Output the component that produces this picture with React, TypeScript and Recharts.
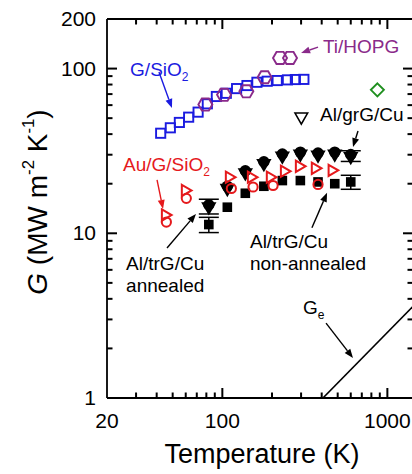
import React from "react";
import {
  ScatterChart, Scatter, XAxis, YAxis, ErrorBar, ReferenceLine, ReferenceDot,
} from "recharts";

const FONT = '"Liberation Sans", Arial, Helvetica, sans-serif';
const BLUE = "#1b1be0";
const PURPLE = "#8a2a8a";
const RED = "#e5191c";
const GREEN = "#1f8f1f";
const BLACK = "#000";

// axis ticks
const xTicks = [20, 30, 40, 50, 60, 70, 80, 90, 100, 200, 300, 400, 500, 600, 700, 800, 900, 1000];
const xLabels = [20, 100, 1000];
const xMajor = [100, 1000];
const yTicks = [1, 2, 3, 4, 5, 6, 7, 8, 9, 10, 20, 30, 40, 50, 60, 70, 80, 90, 100, 200];
const yLabels = [1, 10, 100, 200];
const yMajor = [10, 100];
const X_DOMAIN = [20, 1430];
const Y_DOMAIN = [1, 200];

// G/SiO2 (open blue squares)
const gSio2T = [42.3, 48.4, 54.9, 62.5, 71.3, 81.1, 92, 105.7, 122, 141, 162, 187, 215, 248, 277, 312];
const gSio2G = [40.5, 43.7, 47.1, 50.7, 54.4, 61.1, 67.7, 70.8, 75.6, 78.9, 82.6, 83.8, 84.6, 85.4, 85.8, 86];

// Ti/HOPG (open purple hexagons)
const tiT = [78.9, 102.4, 139.8, 180.4, 223.6, 257];
const tiG = [60.5, 69.3, 72.8, 88.6, 116, 116];

// single points
const greenT = [870];
const greenG = [74.3];
const grGT = [301];
const grGG = [50.3];

// Al/trG/Cu annealed (filled circles + filled down triangles)
const annT = [82.8, 107.2, 137.8, 178.5, 231, 297, 380, 480, 600];
const annCircG = [14.9, 19.3, 24.0, 27.2, 30.3, 31.1, 30.7, 31.1, 30.1];
const annTriG = [14.3, 18.5, 23.0, 26.2, 29.1, 29.9, 29.5, 29.9, 28.9];
const annErrT = [82.8, 600];
const annErrG = [14.6, 29.5];
const annErr = [1.5, 2.2];

// Al/trG/Cu non-annealed (filled squares)
const nonT = [82.8, 107.2, 137.8, 178.5, 231, 297, 380, 480, 600];
const nonG = [11.3, 14.4, 17.5, 19.3, 20.9, 20.9, 20.5, 20.0, 20.5];
const nonErrT = [82.8, 600];
const nonErrG = [11.3, 20.5];
const nonErr = [1.2, 2.0];

// Au/G/SiO2 (open red circles + right triangles)
const auCircT = [45.8, 60.5, 113.4, 153.5, 203, 380];
const auCircG = [11.7, 16.3, 18.7, 19.1, 19.5, 19.8];
const auTriT = [45.8, 60.5, 111.8, 152, 198, 241, 297, 371, 469];
const auTriG = [12.9, 18.2, 21.9, 21.9, 21.9, 23.8, 25.5, 24.8, 24.1];

// G_e line
const geT = [407, 1430];
const geG = [1, 3.6];

const pts = (t: number[], g: number[], e?: number[]) =>
  t.map((T, i) => (e ? { T, G: g[i], e: e[i] } : { T, G: g[i] }));

// annotation arrows and texts (data coordinates)
const arrows = [
  { c: BLUE, a: [41.3, 95.3], b: [49.5, 57.7] },
  { c: PURPLE, a: [380, 135], b: [300, 124.4] },
  { c: BLACK, a: [664, 41.8], b: [619, 33.4] },
  { c: RED, a: [40.2, 21.1], b: [43.7, 14.05] },
  { c: BLACK, a: [46.2, 8.14], b: [69.2, 13.1] },
  { c: BLACK, a: [349, 10.8], b: [431, 17.6] },
  { c: BLACK, a: [425, 2.85], b: [619, 1.75] },
];

const labels = [
  { x: 27.6, y: 90.2, color: BLUE, lines: ["G/SiO"], sub: "2" },
  { x: 407, y: 124.4, color: PURPLE, lines: ["Ti/HOPG"] },
  { x: 391, y: 48.1, color: BLACK, lines: ["Al/grG/Cu"] },
  { x: 25.0, y: 23.9, color: RED, lines: ["Au/G/SiO"], sub: "2" },
  { x: 26.1, y: 5.99, color: BLACK, lines: ["Al/trG/Cu", "annealed"] },
  { x: 147, y: 8.14, color: BLACK, lines: ["Al/trG/Cu", "non-annealed"] },
  { x: 308, y: 3.24, color: BLACK, lines: ["G"], sub: "e" },
];

// inward tick marks as points sitting on the frame edges
const xTickPts = xTicks.filter((v) => v !== 20).map((v) => ({ T: v, major: xMajor.includes(v) }));
const yTickPts = yTicks.filter((v) => v !== 1 && v !== 200).map((v) => ({ G: v, major: yMajor.includes(v) }));
const bottomTicks = xTickPts.map((p) => ({ ...p, G: Y_DOMAIN[0] }));
const topTicks = xTickPts.map((p) => ({ ...p, G: Y_DOMAIN[1] }));
const leftTicks = yTickPts.map((p) => ({ ...p, T: X_DOMAIN[0] }));
const rightTicks = yTickPts.map((p) => ({ ...p, T: X_DOMAIN[1] }));

const isMajor = (p: any) => !!(p.payload ? p.payload.major : p.major);
const tickMark = (dx: number, dy: number) => (p: any) => {
  const len = isMajor(p) ? 10 : 5.5;
  return <line x1={p.cx} y1={p.cy} x2={p.cx + dx * len} y2={p.cy + dy * len} stroke={BLACK} strokeWidth={2} />;
};
const UpTick = tickMark(0, -1);
const DownTick = tickMark(0, 1);
const RightwardTick = tickMark(1, 0);
const LeftwardTick = tickMark(-1, 0);

const AX = { stroke: BLACK, strokeWidth: 1.8 };

const BottomTick = (props: any) => {
  const { x, y, payload } = props;
  const v = payload.value;
  return xLabels.includes(v) ? (
    <text x={x} y={y + 30} textAnchor="middle" fontSize={21} fontFamily={FONT} fill={BLACK}>{v}</text>
  ) : <g />;
};

const LeftTick = (props: any) => {
  const { x, y, payload } = props;
  const v = payload.value;
  return yLabels.includes(v) ? (
    <text x={x - 11} y={y + 7} textAnchor="end" fontSize={21} fontFamily={FONT} fill={BLACK}>{v}</text>
  ) : <g />;
};

const Nothing = () => <g />;

const OpenSquare = ({ cx, cy }: any) => (
  <rect x={cx - 4.6} y={cy - 4.6} width={9.2} height={9.2} fill="none" stroke={BLUE} strokeWidth={1.9} />
);
const Hexagon = ({ cx, cy }: any) => {
  const r = 7;
  const p = [0, 60, 120, 180, 240, 300]
    .map((d) => `${cx + r * Math.cos((d * Math.PI) / 180)},${cy + r * Math.sin((d * Math.PI) / 180)}`)
    .join(" ");
  return <polygon points={p} fill="none" stroke={PURPLE} strokeWidth={1.9} />;
};
const Diamond = ({ cx, cy }: any) => (
  <polygon points={`${cx},${cy - 6.5} ${cx + 6.5},${cy} ${cx},${cy + 6.5} ${cx - 6.5},${cy}`} fill="none" stroke={GREEN} strokeWidth={1.9} />
);
const TriDown = ({ cx, cy, fill }: any) => (
  <polygon points={`${cx - 6.3},${cy - 4.7} ${cx + 6.3},${cy - 4.7} ${cx},${cy + 6.3}`} fill={fill} stroke={BLACK} strokeWidth={1.6} />
);
const OpenTriDown = (p: any) => <TriDown {...p} fill="none" />;
const FilledTriDown = (p: any) => <TriDown {...p} fill={BLACK} />;
const FilledCircle = ({ cx, cy }: any) => <circle cx={cx} cy={cy} r={5.7} fill={BLACK} />;
const FilledSquare = ({ cx, cy }: any) => <rect x={cx - 4.8} y={cy - 4.8} width={9.6} height={9.6} fill={BLACK} />;
const RedCircle = ({ cx, cy }: any) => <circle cx={cx} cy={cy} r={4.6} fill="none" stroke={RED} strokeWidth={2} />;
const RedTriRight = ({ cx, cy }: any) => (
  <polygon points={`${cx - 4.5},${cy - 5.6} ${cx + 5.2},${cy} ${cx - 4.5},${cy + 5.6}`} fill="none" stroke={RED} strokeWidth={2} />
);

const arrowShape = (color: string) => (p: any) => {
  const { x1, y1, x2, y2 } = p;
  const a = Math.atan2(y2 - y1, x2 - x1);
  const L = 9;
  const W = 3.5;
  const bx = x2 - L * Math.cos(a);
  const by = y2 - L * Math.sin(a);
  const head = `${x2},${y2} ${bx - W * Math.sin(a)},${by + W * Math.cos(a)} ${bx + W * Math.sin(a)},${by - W * Math.cos(a)}`;
  return (
    <g>
      <line x1={x1} y1={y1} x2={bx} y2={by} stroke={color} strokeWidth={1.4} />
      <polygon points={head} fill={color} />
    </g>
  );
};

const Label = ({ cx, cy, color, lines, sub }: any) => (
  <text x={cx} y={cy} fill={color} fontSize={19} fontFamily={FONT}>
    {lines.map((l: string, i: number) => (
      <tspan key={i} x={cx} dy={i === 0 ? 0 : 22}>{l}</tspan>
    ))}
    {sub && <tspan fontSize={12} dy={5}>{sub}</tspan>}
  </text>
);

export default function App() {
  return (
    <div style={{ position: "absolute", left: 0, top: 0, width: 412, height: 474, overflow: "hidden", background: "#fff", fontFamily: FONT }}>
      <ScatterChart width={440} height={474} margin={{ top: 18, right: 26, bottom: 45, left: 46 }}>
        <XAxis
          dataKey="T" type="number" scale="log" domain={X_DOMAIN} allowDataOverflow
          ticks={xTicks} interval={0} tick={BottomTick} tickLine={false} tickSize={0} tickMargin={0}
          height={31} axisLine={AX}
        />
        <XAxis
          xAxisId="top" orientation="top" dataKey="T" type="number" scale="log" domain={X_DOMAIN} allowDataOverflow
          ticks={xTicks} interval={0} tick={Nothing} tickLine={false} tickSize={0} tickMargin={0}
          height={1} axisLine={AX}
        />
        <YAxis
          dataKey="G" type="number" scale="log" domain={Y_DOMAIN} allowDataOverflow
          ticks={yTicks} interval={0} tick={LeftTick} tickLine={false} tickSize={0} tickMargin={0}
          width={61} axisLine={AX}
        />
        <YAxis
          yAxisId="right" orientation="right" dataKey="G" type="number" scale="log" domain={Y_DOMAIN} allowDataOverflow
          ticks={yTicks} interval={0} tick={Nothing} tickLine={false} tickSize={0} tickMargin={0}
          width={1} axisLine={AX}
        />

        <Scatter data={bottomTicks} shape={UpTick} isAnimationActive={false} />
        <Scatter data={topTicks} shape={DownTick} isAnimationActive={false} />
        <Scatter data={leftTicks} shape={RightwardTick} isAnimationActive={false} />
        <Scatter data={rightTicks} shape={LeftwardTick} isAnimationActive={false} />

        <Scatter data={pts(geT, geG)} line={{ stroke: BLACK, strokeWidth: 1.6 }} shape={Nothing} isAnimationActive={false} />

        <Scatter data={pts(gSio2T, gSio2G)} shape={OpenSquare} isAnimationActive={false} />
        <Scatter data={pts(tiT, tiG)} shape={Hexagon} isAnimationActive={false} />
        <Scatter data={pts(greenT, greenG)} shape={Diamond} isAnimationActive={false} />
        <Scatter data={pts(grGT, grGG)} shape={OpenTriDown} isAnimationActive={false} />

        <Scatter data={pts(nonErrT, nonErrG, nonErr)} shape={Nothing} isAnimationActive={false}>
          <ErrorBar dataKey="e" direction="y" width={10} stroke={BLACK} strokeWidth={1.5} />
        </Scatter>
        <Scatter data={pts(annErrT, annErrG, annErr)} shape={Nothing} isAnimationActive={false}>
          <ErrorBar dataKey="e" direction="y" width={10} stroke={BLACK} strokeWidth={1.5} />
        </Scatter>
        <Scatter data={pts(nonT, nonG)} shape={FilledSquare} isAnimationActive={false} />
        <Scatter data={pts(annT, annCircG)} shape={FilledCircle} isAnimationActive={false} />
        <Scatter data={pts(annT, annTriG)} shape={FilledTriDown} isAnimationActive={false} />

        <Scatter data={pts(auCircT, auCircG)} shape={RedCircle} isAnimationActive={false} />
        <Scatter data={pts(auTriT, auTriG)} shape={RedTriRight} isAnimationActive={false} />

        {arrows.map((ar, i) => (
          <ReferenceLine
            key={`ar${i}`}
            segment={[{ x: ar.a[0], y: ar.a[1] }, { x: ar.b[0], y: ar.b[1] }]}
            shape={arrowShape(ar.c)}
          />
        ))}
        {labels.map((lb, i) => (
          <ReferenceDot
            key={`lb${i}`} x={lb.x} y={lb.y} r={0}
            shape={(p: any) => <Label {...p} color={lb.color} lines={lb.lines} sub={lb.sub} />}
          />
        ))}
      </ScatterChart>

      <div style={{ position: "absolute", left: 262, top: 441, transform: "translateX(-50%)", fontSize: 27, lineHeight: 1, whiteSpace: "nowrap", color: BLACK }}>
        Temperature (K)
      </div>
      <div
        style={{
          position: "absolute", left: 38, top: 202, transform: "translate(-50%, -50%) rotate(-90deg)",
          fontSize: 28, lineHeight: 1, whiteSpace: "nowrap", color: BLACK,
        }}
      >
        <i>G</i> (MW m<span style={{ fontSize: "0.6em", position: "relative", top: "-0.75em" }}>-2</span> K
        <span style={{ fontSize: "0.6em", position: "relative", top: "-0.75em" }}>-1</span>)
      </div>
    </div>
  );
}
